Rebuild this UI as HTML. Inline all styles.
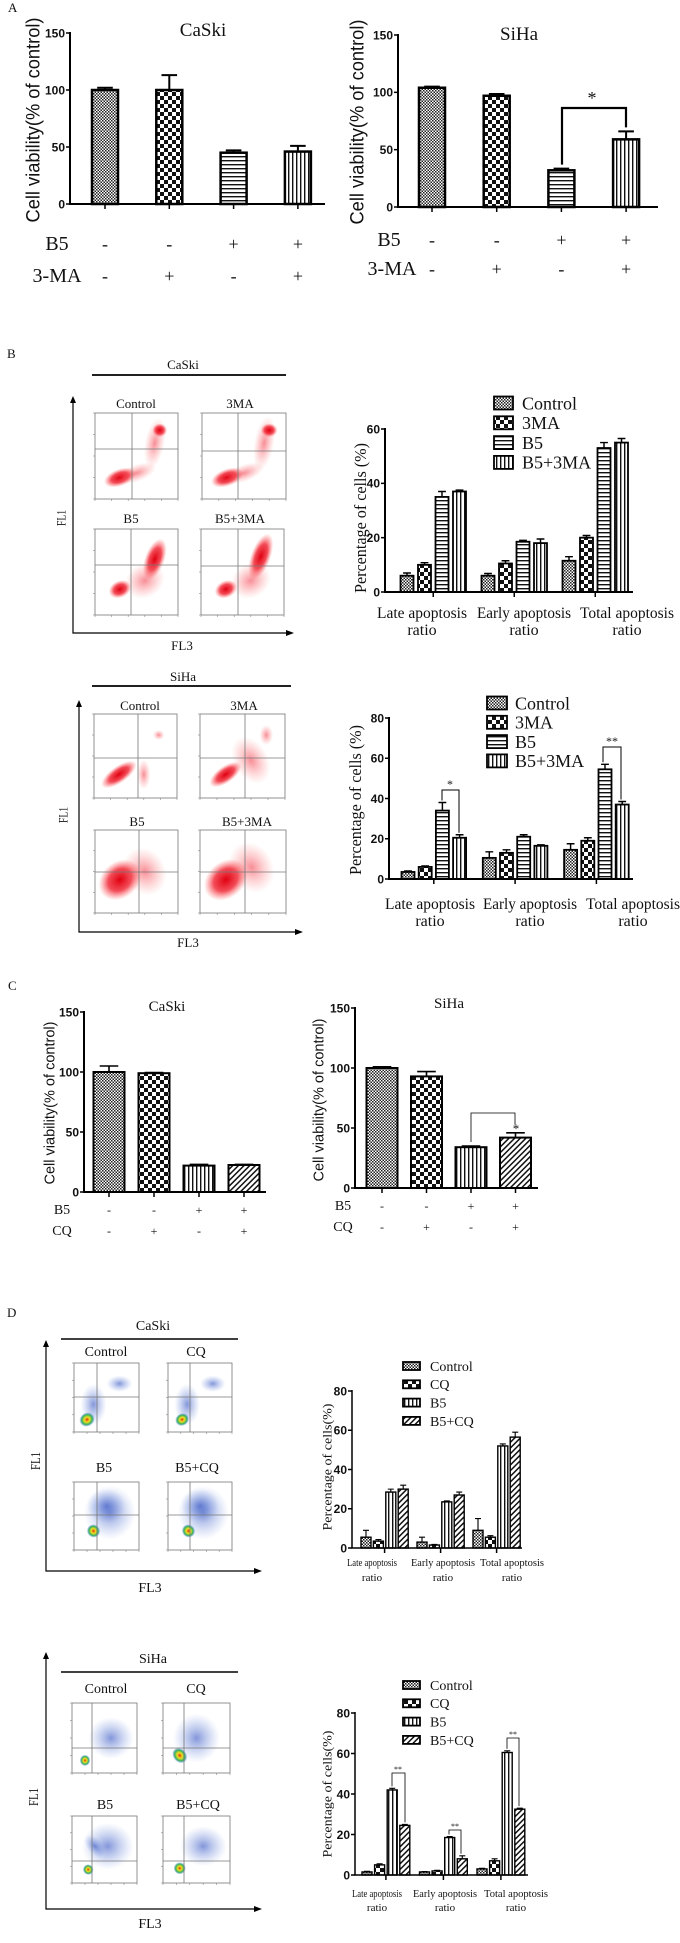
<!DOCTYPE html>
<html><head><meta charset="utf-8"><style>
html,body{margin:0;padding:0;background:#fff;}
svg{display:block;}
text{font-family:"Liberation Serif",serif;fill:#111;}
.sans{font-family:"Liberation Sans",sans-serif;}
.tk{font-family:"Liberation Sans",sans-serif;font-weight:bold;}
</style></head><body>
<svg id="fig" xmlns="http://www.w3.org/2000/svg" width="680" height="1943" viewBox="0 0 680 1943">
<defs>
<pattern id="pCtrl" width="3" height="3" patternUnits="userSpaceOnUse"><rect width="3" height="3" fill="#fff"/><rect width="1.5" height="1.5" fill="#222"/><rect x="1.5" y="1.5" width="1.5" height="1.5" fill="#222"/></pattern>
<pattern id="pChk" width="8" height="8" patternUnits="userSpaceOnUse"><rect width="8" height="8" fill="#fff"/><rect width="4" height="4" fill="#111"/><rect x="4" y="4" width="4" height="4" fill="#111"/></pattern>
<pattern id="pH" width="4" height="4" patternUnits="userSpaceOnUse"><rect width="4" height="4" fill="#fff"/><rect y="0" width="4" height="1.4" fill="#111"/></pattern>
<pattern id="pV" width="4" height="4" patternUnits="userSpaceOnUse"><rect width="4" height="4" fill="#fff"/><rect x="0" width="1.4" height="4" fill="#111"/></pattern>
<pattern id="pD" width="4" height="4" patternUnits="userSpaceOnUse" patternTransform="rotate(45)"><rect width="4" height="4" fill="#fff"/><rect width="1.5" height="4" fill="#111"/></pattern>
<radialGradient id="gRed"><stop offset="0" stop-color="#e00010" stop-opacity="1"/><stop offset="0.55" stop-color="#ee1020" stop-opacity="0.75"/><stop offset="1" stop-color="#ff5050" stop-opacity="0"/></radialGradient>
<radialGradient id="gRedL"><stop offset="0" stop-color="#f03040" stop-opacity="0.55"/><stop offset="1" stop-color="#ff7070" stop-opacity="0"/></radialGradient>
<radialGradient id="gBlue"><stop offset="0" stop-color="#3050c0" stop-opacity="0.6"/><stop offset="1" stop-color="#7090e0" stop-opacity="0"/></radialGradient>
<radialGradient id="gCore"><stop offset="0" stop-color="#e03010"/><stop offset="0.35" stop-color="#f0e020"/><stop offset="0.7" stop-color="#30b060"/><stop offset="1" stop-color="#3060d0" stop-opacity="0"/></radialGradient>
</defs>
</svg>
<script>
// ---------- data ----------
const aCats=['1','2','3','4'];
const aCaskiVals=[100,100,45,46];
const aCaskiErr=[2,13,2,5];
const aSihaVals=[104,97,32,59];
const aSihaErr=[1,1.5,1.5,7];
const aTicks=[0,50,100,150];
const aB5=['-','-','+','+'];
const a3MA=['-','+','-','+'];

const bGroups=['Late apoptosis','Early apoptosis','Total apoptosis'];
const bSeries=['Control','3MA','B5','B5+3MA'];
const bCaskiVals=[[6,10,35,37],[6,10.5,18.5,18],[11.5,20,53,55]];
const bCaskiErr=[[1,0.8,2,0.5],[0.8,1,0.5,1.5],[1.5,0.8,2,1.5]];
const bCaskiTicks=[0,20,40,60];
const bSihaVals=[[3.5,6,34,20.5],[10.5,13,21,16.5],[14.5,19,54.5,37]];
const bSihaErr=[[0.5,0.5,4,1.5],[3,1.5,1,0.5],[3,1.5,2.5,1.5]];
const bSihaTicks=[0,20,40,60,80];

const cCaskiVals=[100,99,22,22.5];
const cCaskiErr=[5,0.5,1,0.5];
const cSihaVals=[100,93,34,42];
const cSihaErr=[1,4,1,4];
const cTicks=[0,50,100,150];
const cB5=['-','-','+','+'];
const cCQ=['-','+','-','+'];

const dSeries=['Control','CQ','B5','B5+CQ'];
const dCaskiVals=[[5.5,3.5,28.5,30],[3,1.5,23.5,27],[9,5.5,52,56.5]];
const dCaskiErr=[[3.5,0.8,1.5,2],[2.5,0.3,0.5,1.5],[6,0.8,1,2.5]];
const dSihaVals=[[1.5,5,42,24.5],[1.5,2,18.5,8],[3,7,60.5,32.5]];
const dSihaErr=[[0.3,0.5,0.8,0.5],[0.2,0.3,0.5,1.5],[0.3,1,0.8,0.5]];
const dTicks=[0,20,40,60,80];

// ---------- helpers ----------
const NS='http://www.w3.org/2000/svg';
const svg=document.getElementById('fig');
function mk(tag,attrs,parent){const e=document.createElementNS(NS,tag);for(const k in attrs)e.setAttribute(k,attrs[k]);(parent||svg).appendChild(e);return e;}
function txt(s,x,y,size,attrs,parent){const e=mk('text',Object.assign({x:x,y:y,'font-size':size},attrs||{}),parent);e.textContent=s;return e;}
function vlabel(s,cx,cy,size,len,cls,parent){
  const e=txt(s,cx+0.35*size,cy,size,{'text-anchor':'middle',transform:'rotate(-90 '+(cx+0.35*size)+' '+cy+')',textLength:len,lengthAdjust:'spacingAndGlyphs',class:cls||''},parent);
  return e;
}

function chart(name,cfg,vals,errs,ticks){
  const g=mk('g',{});
  
  
  const ys=v=>cfg.y0-v*(cfg.y0-cfg.yTop)/cfg.max;
  vals.forEach((grp,gi)=>{
    grp.forEach((v,si)=>{
      const cx=cfg.xs(gi,si);
      const r=mk('rect',{x:cx-cfg.bw/2,y:ys(v),width:cfg.bw,height:cfg.y0-ys(v),fill:'url(#'+cfg.pat(gi,si)+')',stroke:'#000','stroke-width':cfg.sw},g);
      
      
      const e=errs[gi][si];
      const top=ys(v+e);
      const l=mk('path',{d:'M'+cx+' '+ys(v)+'V'+top+'M'+(cx-cfg.bw*0.3)+' '+top+'H'+(cx+cfg.bw*0.3),stroke:'#000','stroke-width':cfg.sw*0.8,fill:'none'},g);
      
      
    });
    const tx=(cfg.xs(gi,0)+cfg.xs(gi,grp.length-1))/2;
    const t=mk('line',{x1:tx,x2:tx,y1:cfg.y0,y2:cfg.y0+5,stroke:'#000','stroke-width':1.5},g);
    
    
  });
  const ax=mk('path',{d:'M'+cfg.ax+' '+(cfg.yTop-1)+'V'+cfg.y0+'H'+cfg.xEnd,stroke:'#000','stroke-width':cfg.asw||2,fill:'none'},g);
  
  
  ticks.forEach(t=>{
    const y=ys(t);
    const tl=mk('line',{x1:cfg.ax-4,x2:cfg.ax,y1:y,y2:y,stroke:'#000','stroke-width':1.5},g);
    
    
    const lb=txt(String(t),cfg.ax-5,y+cfg.tf*0.36,cfg.tf,{'text-anchor':'end',class:'tk'},g);
    
    
  });
  return {g:g,ys:ys};
}
function legend(x,y0,step,sqw,sqh,size,tx,names,pats){
  names.forEach((n,i)=>{
    const y=y0+i*step;
    const r=mk('rect',{x:x,y:y-sqh/2,width:sqw,height:sqh,fill:'url(#'+pats[i]+')',stroke:'#000','stroke-width':1.8});
    
    
    const t=txt(n,tx,y+size*0.35,size);
    
    
  });
}
function bracket(x1,y1,x2,y2,top,star,sx,sy,size,sw){
  const p=mk('path',{d:'M'+x1+' '+y1+'V'+top+'H'+x2+'V'+y2,stroke:'#000','stroke-width':sw,fill:'none'});
  
  
  const t=txt(star,sx,sy,size,{'text-anchor':'middle'});
  
  
}
function flow(name,x,y,w,h,qx,qy,blobs){
  const g=mk('g',{});
  
  
  blobs.forEach(b=>{
    const cx=x+b[0]*w, cy=y+b[1]*h;
    mk('ellipse',{cx:cx,cy:cy,rx:b[2]*w,ry:b[3]*h,fill:'url(#'+b[5]+')',transform:'rotate('+b[4]+' '+cx+' '+cy+')'},g);
  });
  mk('rect',{x:x,y:y,width:w,height:h,fill:'none',stroke:'#777','stroke-width':0.8},g);
  mk('line',{x1:qx,x2:qx,y1:y,y2:y+h,stroke:'#777','stroke-width':0.8},g);
  mk('line',{x1:x,x2:x+w,y1:qy,y2:qy,stroke:'#777','stroke-width':0.8},g);
  for(let i=0;i<6;i++){mk('line',{x1:x+i*w/5,x2:x+i*w/5,y1:y+h,y2:y+h+2,stroke:'#888','stroke-width':0.6},g);}
  for(let i=0;i<5;i++){mk('line',{x1:x-2,x2:x,y1:y+i*h/4,y2:y+i*h/4,stroke:'#888','stroke-width':0.6},g);}
}
function arrowAxes(name,x,yTop,yBot,xEnd){
  const p=mk('path',{d:'M'+x+' '+(yTop+6)+'V'+yBot+'H'+(xEnd-7),stroke:'#000','stroke-width':1.2,fill:'none'});
  
  
  mk('path',{d:'M'+(x-3)+' '+(yTop+7)+'L'+x+' '+yTop+'L'+(x+3)+' '+(yTop+7)+'Z',fill:'#000'});
  mk('path',{d:'M'+(xEnd-8)+' '+(yBot-3)+'L'+xEnd+' '+yBot+'L'+(xEnd-8)+' '+(yBot+3)+'Z',fill:'#000'});
}
function label(s,x,y,size,name,extra){
  const t=txt(s,x,y,size,Object.assign({'text-anchor':'middle'},extra||{}));
  
  
  return t;
}
function groupLabels(name,centers,y1,y2,size,lens){
  bGroups.forEach((gname,i)=>{
    const ex=lens?{textLength:lens[i],lengthAdjust:'spacingAndGlyphs'}:{};
    label(gname,centers[i],y1,size,'x-label-'+name,ex);
    label('ratio',centers[i],y2,size,'x-label-ratio');
  });
}

// ---------- Panel A ----------
label('A',8,12,13,'panel-label-a',{'text-anchor':'start'});
const pA=(g,s)=>['pCtrl','pChk','pH','pV'][g];
const aC=chart('a-caski',{ax:70,y0:204,yTop:33,max:150,xEnd:325,bw:26,sw:2.5,tf:12,xs:(g,s)=>105+g*64.3,pat:pA},aCaskiVals.map(v=>[v]),aCaskiErr.map(v=>[v]),aTicks);
const aS=chart('a-siha',{ax:398,y0:207,yTop:35,max:150,xEnd:658,bw:26,sw:2.5,tf:12,xs:(g,s)=>432+g*64.7,pat:pA},aSihaVals.map(v=>[v]),aSihaErr.map(v=>[v]),aTicks);
label('CaSki',203,36,19,'chart-title-a-caski');
label('SiHa',519,40,19,'chart-title-a-siha');
vlabel('Cell viability(% of control)',33,120,19,205,'sans');
vlabel('Cell viability(% of control)',357,122,19,205,'sans');
label('B5',57,250,20,'row-label-b5');
label('3-MA',57,282,20,'row-label-3ma');
label('B5',389,246,20,'row-label-b5-siha');
label('3-MA',392,275,20,'row-label-3ma-siha');
aCats.forEach((c,i)=>{
  label(aB5[i],105+i*64.3,250,18,'b5-sign');
  label(a3MA[i],105+i*64.3,282,18,'3ma-sign');
  label(aB5[i],432+i*64.7,246,18,'b5-sign-siha');
  label(a3MA[i],432+i*64.7,275,18,'3ma-sign-siha');
});
bracket(562,aS.ys(aSihaVals[2]+aSihaErr[2])-4,626,aS.ys(aSihaVals[3]+aSihaErr[3])-4,108,'*',592,104,18,2.2);

// ---------- Panel B ----------
label('B',7,358,13,'panel-label-b',{'text-anchor':'start'});
label('CaSki',183,369,13,'flow-title-b-caski');
mk('line',{x1:92,x2:286,y1:375,y2:375,stroke:'#000','stroke-width':1.8});
arrowAxes('flow-axes-b-caski',73,396,633,294);
label('FL3',182,650,13,'x-axis-title-fl3');
vlabel('FL1',61,518,13,16,'');
label('Control',136,408,13,'flow-label-control');
label('3MA',240,408,13,'flow-label-3ma');
label('B5',131,523,13,'flow-label-b5');
label('B5+3MA',240,523,13,'flow-label-b5-3ma');
flow('flow-caski-control',95,413,83,86,132,449,[[0.3,0.75,0.2,0.1,-20,'gRed'],[0.72,0.35,0.12,0.3,10,'gRedL'],[0.78,0.2,0.09,0.08,0,'gRed'],[0.5,0.7,0.25,0.1,-20,'gRedL']]);
flow('flow-caski-3ma',202,413,84,86,238,451,[[0.3,0.75,0.2,0.1,-20,'gRed'],[0.74,0.35,0.12,0.32,10,'gRedL'],[0.8,0.2,0.1,0.08,0,'gRed'],[0.5,0.7,0.25,0.1,-20,'gRedL']]);
flow('flow-caski-b5',95,529,83,86,131,565,[[0.3,0.7,0.14,0.1,-25,'gRed'],[0.72,0.35,0.12,0.25,20,'gRed'],[0.6,0.6,0.25,0.2,-30,'gRedL']]);
flow('flow-caski-b5-3ma',201,529,83,86,238,566,[[0.3,0.7,0.14,0.1,-25,'gRed'],[0.72,0.32,0.12,0.28,20,'gRed'],[0.6,0.6,0.25,0.2,-30,'gRedL']]);

const pB=(g,s)=>['pCtrl','pChk','pH','pV'][s];
const bC=chart('b-caski',{ax:385,y0:592,yTop:429,max:60,xEnd:633,bw:13,sw:1.8,tf:12,xs:(g,s)=>407+g*81+s*17.5,pat:pB},bCaskiVals,bCaskiErr,bCaskiTicks);
vlabel('Percentage of cells (%)',360,518,17,150,'');
legend(494,403,19.8,19,13,18,522,bSeries,['pCtrl','pChk','pH','pV']);
groupLabels('b-caski',[422,524,627],618,635,16,[90,94,94]);

label('SiHa',183,681,13,'flow-title-b-siha');
mk('line',{x1:92,x2:291,y1:686,y2:686,stroke:'#000','stroke-width':1.8});
arrowAxes('flow-axes-b-siha',79,700,932,303);
label('FL3',188,947,13,'x-axis-title-fl3-siha');
vlabel('FL1',63,815,13,16,'');
label('Control',140,710,13,'flow-label-control-siha');
label('3MA',244,710,13,'flow-label-3ma-siha');
label('B5',137,826,13,'flow-label-b5-siha');
label('B5+3MA',247,826,13,'flow-label-b5-3ma-siha');
flow('flow-siha-control',94,714,83,84,138,758,[[0.3,0.72,0.25,0.1,-35,'gRed'],[0.6,0.72,0.08,0.18,0,'gRedL'],[0.78,0.25,0.07,0.06,0,'gRedL']]);
flow('flow-siha-3ma',200,714,85,84,245,758,[[0.3,0.72,0.22,0.1,-35,'gRed'],[0.6,0.55,0.2,0.3,-30,'gRedL'],[0.78,0.25,0.08,0.12,0,'gRedL']]);
flow('flow-siha-b5',95,830,83,83,139,872,[[0.3,0.6,0.28,0.22,-40,'gRed'],[0.6,0.5,0.25,0.3,-30,'gRedL']]);
flow('flow-siha-b5-3ma',200,830,86,83,245,872,[[0.3,0.6,0.28,0.22,-40,'gRed'],[0.6,0.45,0.25,0.32,-30,'gRedL']]);

const bS=chart('b-siha',{ax:389,y0:879,yTop:718,max:80,xEnd:633,bw:13,sw:1.8,tf:12,xs:(g,s)=>408+g*81.3+s*17.2,pat:pB},bSihaVals,bSihaErr,bSihaTicks);
vlabel('Percentage of cells (%)',355,800,17,150,'');
legend(487,703,19.3,20,13,18,515,bSeries,['pCtrl','pChk','pH','pV']);
groupLabels('b-siha',[430,530,633],909,926,16,[90,94,94]);
bracket(442,bS.ys(bSihaVals[0][2]+bSihaErr[0][2])-2,459,bS.ys(bSihaVals[0][3]+bSihaErr[0][3])-2,790,'*',450,788,12,1);
bracket(603,bS.ys(bSihaVals[2][2]+bSihaErr[2][2])-2,621,bS.ys(bSihaVals[2][3]+bSihaErr[2][3])-2,747,'**',612,745,12,1);

// ---------- Panel C ----------
label('C',8,990,13,'panel-label-c',{'text-anchor':'start'});
const pC=(g,s)=>['pCtrl','pChk','pV','pD'][g];
const cC=chart('c-caski',{ax:84,y0:1192,yTop:1012,max:150,xEnd:266,bw:31,sw:2,tf:12,xs:(g,s)=>109+g*45,pat:pC},cCaskiVals.map(v=>[v]),cCaskiErr.map(v=>[v]),cTicks);
const cS=chart('c-siha',{ax:355,y0:1188,yTop:1008,max:150,xEnd:538,bw:31,sw:2,tf:12,xs:(g,s)=>382+g*44.5,pat:pC},cSihaVals.map(v=>[v]),cSihaErr.map(v=>[v]),cTicks);
label('CaSki',167,1011,15,'chart-title-c-caski');
label('SiHa',449,1008,15,'chart-title-c-siha');
vlabel('Cell viability(% of control)',49,1103,15,163,'sans');
vlabel('Cell viability(% of control)',318,1100,15,163,'sans');
label('B5',62,1214,14,'row-label-b5-c');
label('CQ',62,1235,14,'row-label-cq-c');
label('B5',343,1210,14,'row-label-b5-c-siha');
label('CQ',343,1231,14,'row-label-cq-c-siha');
cB5.forEach((c,i)=>{
  label(cB5[i],109+i*45,1214,12,'b5-sign-c');
  label(cCQ[i],109+i*45,1235,12,'cq-sign-c');
  label(cB5[i],382+i*44.5,1210,12,'b5-sign-c-siha');
  label(cCQ[i],382+i*44.5,1231,12,'cq-sign-c-siha');
});
bracket(471,cS.ys(cSihaVals[2]+cSihaErr[2])-4,515,cS.ys(cSihaVals[3]+cSihaErr[3])-8,1113,'*',516,1133,13,0.8);

// ---------- Panel D ----------
label('D',7,1317,13,'panel-label-d',{'text-anchor':'start'});
label('CaSki',153,1330,14,'flow-title-d-caski');
mk('line',{x1:61,x2:238,y1:1339,y2:1339,stroke:'#000','stroke-width':1.5});
arrowAxes('flow-axes-d-caski',46,1340,1571,262);
label('FL3',150,1592,14,'x-axis-title-fl3-d');
vlabel('FL1',35,1461,14,18,'');
label('Control',106,1356,14,'flow-label-control-d');
label('CQ',196,1356,14,'flow-label-cq-d');
label('B5',104,1472,14,'flow-label-b5-d');
label('B5+CQ',197,1472,14,'flow-label-b5-cq-d');
flow('flow-d-caski-control',74,1363,65,69,97,1397,[[0.7,0.3,0.2,0.12,0,'gBlue'],[0.3,0.6,0.2,0.3,0,'gBlue'],[0.2,0.82,0.12,0.1,-30,'gCore']]);
flow('flow-d-caski-cq',168,1363,64,69,190,1397,[[0.7,0.3,0.2,0.12,0,'gBlue'],[0.3,0.6,0.2,0.3,0,'gBlue'],[0.22,0.82,0.11,0.09,-30,'gCore']]);
flow('flow-d-caski-b5',74,1482,65,68,97,1515,[[0.55,0.45,0.4,0.4,0,'gBlue'],[0.5,0.35,0.3,0.25,0,'gBlue'],[0.3,0.72,0.1,0.1,-45,'gCore']]);
flow('flow-d-caski-b5cq',168,1482,64,68,190,1515,[[0.55,0.45,0.4,0.4,0,'gBlue'],[0.5,0.35,0.3,0.25,0,'gBlue'],[0.32,0.72,0.1,0.1,-45,'gCore']]);

const pD=(g,s)=>['pCtrl','pChk','pV','pD'][s];
const dC=chart('d-caski',{ax:352,y0:1548,yTop:1391,max:80,xEnd:522,bw:10,sw:1.4,tf:12,asw:1.5,xs:(g,s)=>366+g*56+s*12.4,pat:pD},dCaskiVals,dCaskiErr,dTicks);
vlabel('Percentage of cells(%)',327,1467,13,127,'');
legend(403,1366,18.3,17,8,14,430,dSeries,['pCtrl','pChk','pV','pD']);
groupLabels('d-caski',[372,443,512],1566,1581,11,[50,64,64]);

label('SiHa',153,1663,14,'flow-title-d-siha');
mk('line',{x1:61,x2:238,y1:1672,y2:1672,stroke:'#000','stroke-width':1.5});
arrowAxes('flow-axes-d-siha',46,1652,1909,262);
label('FL3',150,1928,14,'x-axis-title-fl3-d-siha');
vlabel('FL1',33,1797,14,18,'');
label('Control',106,1693,14,'flow-label-control-d-siha');
label('CQ',196,1693,14,'flow-label-cq-d-siha');
label('B5',105,1809,14,'flow-label-b5-d-siha');
label('B5+CQ',198,1809,14,'flow-label-b5-cq-d-siha');
flow('flow-d-siha-control',72,1703,65,70,92,1748,[[0.6,0.5,0.35,0.3,0,'gBlue'],[0.2,0.82,0.08,0.08,0,'gCore']]);
flow('flow-d-siha-cq',163,1703,67,70,184,1748,[[0.5,0.5,0.35,0.35,0,'gBlue'],[0.25,0.75,0.1,0.12,-40,'gCore']]);
flow('flow-d-siha-b5',72,1816,65,67,92,1861,[[0.55,0.45,0.4,0.35,0,'gBlue'],[0.35,0.45,0.12,0.2,-40,'gBlue'],[0.25,0.8,0.08,0.08,-45,'gCore']]);
flow('flow-d-siha-b5cq',163,1816,67,67,184,1861,[[0.6,0.45,0.35,0.3,0,'gBlue'],[0.25,0.78,0.09,0.09,-45,'gCore']]);

const dS=chart('d-siha',{ax:355,y0:1875,yTop:1713,max:80,xEnd:528,bw:10,sw:1.4,tf:12,asw:1.5,xs:(g,s)=>367+g*57.5+s*12.6,pat:pD},dSihaVals,dSihaErr,dTicks);
vlabel('Percentage of cells(%)',327,1794,13,127,'');
legend(403,1685,18.3,17,8,14,430,dSeries,['pCtrl','pChk','pV','pD']);
groupLabels('d-siha',[377,445,516],1897,1911,11,[50,64,64]);
bracket(392,dS.ys(dSihaVals[0][2]+dSihaErr[0][2])-2,405,dS.ys(dSihaVals[0][3]+dSihaErr[0][3])-2,1773,'**',398,1772,8,0.8);
bracket(449,dS.ys(dSihaVals[1][2]+dSihaErr[1][2])-2,461,dS.ys(dSihaVals[1][3]+dSihaErr[1][3])-2,1830,'**',455,1829,8,0.8);
bracket(507,dS.ys(dSihaVals[2][2]+dSihaErr[2][2])-2,519,dS.ys(dSihaVals[2][3]+dSihaErr[2][3])-2,1738,'**',513,1737,8,0.8);
</script>
</body></html>
